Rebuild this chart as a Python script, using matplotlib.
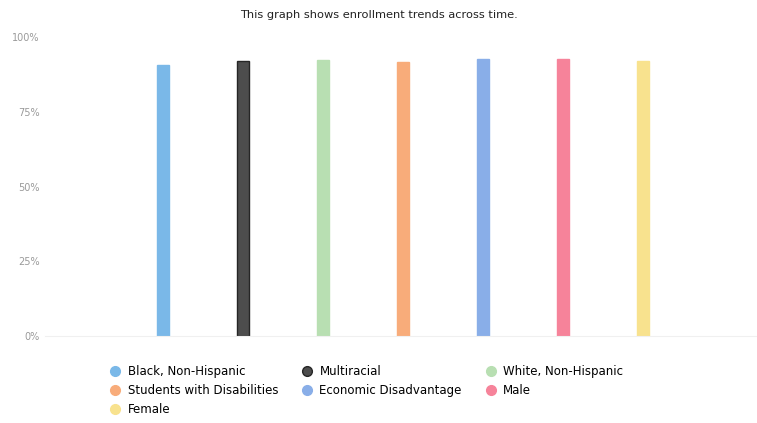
import matplotlib
matplotlib.use('Agg')
import matplotlib.pyplot as plt
from matplotlib.lines import Line2D

groups = ['Black, Non-Hispanic', 'Multiracial', 'White, Non-Hispanic',
          'Students with Disabilities', 'Economic Disadvantage', 'Male', 'Female']
values = [90.6, 92.0, 92.3, 91.8, 92.5, 92.5, 92.0]
colors = ['#7ab8e8', '#4d4d4d', '#b8dfb2', '#f8ac7a', '#89aee8', '#f6839a', '#f8e28e']
edges = ['#7ab8e8', '#262626', '#b8dfb2', '#f8ac7a', '#89aee8', '#f6839a', '#f8e28e']
yticks = [0, 25, 50, 75, 100]
ytick_labels = ['0%', '25%', '50%', '75%', '100%']

fig = plt.figure(figsize=(7.57, 4.23), dpi=100)
ax = fig.add_axes([45 / 757, 1 - 336 / 423, 712 / 757, 299 / 423])

x = list(range(len(groups)))
ax.bar(x, values, width=0.16, color=colors, edgecolor=edges, linewidth=1.0)

ax.set_xlim(-1.475, 7.425)
ax.set_ylim(0, 100)
ax.set_yticks(yticks)
ax.set_yticklabels(ytick_labels, fontsize=7, color='#9a9a9a')
ax.set_xticks([])
ax.tick_params(axis='y', length=0, pad=4)
for side in ['top', 'right', 'left']:
    ax.spines[side].set_visible(False)
ax.spines['bottom'].set_color('#f0f0f0')

fig.text(0.5, 1 - 15 / 423, 'This graph shows enrollment trends across time.',
         ha='center', va='center', fontsize=8.2, color='#222222')

# legend is filled row-wise in the picture, matplotlib fills by column
order = [0, 3, 6, 1, 4, 2, 5]
handles = [Line2D([], [], marker='o', linestyle='', markersize=7,
                  markerfacecolor=colors[i], markeredgecolor=edges[i])
           for i in order]
labels = [groups[i] for i in order]
fig.legend(handles, labels, ncol=3, loc='upper left',
           bbox_to_anchor=(104 / 757, 1 - 359 / 423), frameon=False,
           fontsize=8.5, handlelength=0.9, handletextpad=0.6,
           columnspacing=2.0, labelspacing=0.5, borderpad=0)

plt.savefig('out.png', dpi=100)
